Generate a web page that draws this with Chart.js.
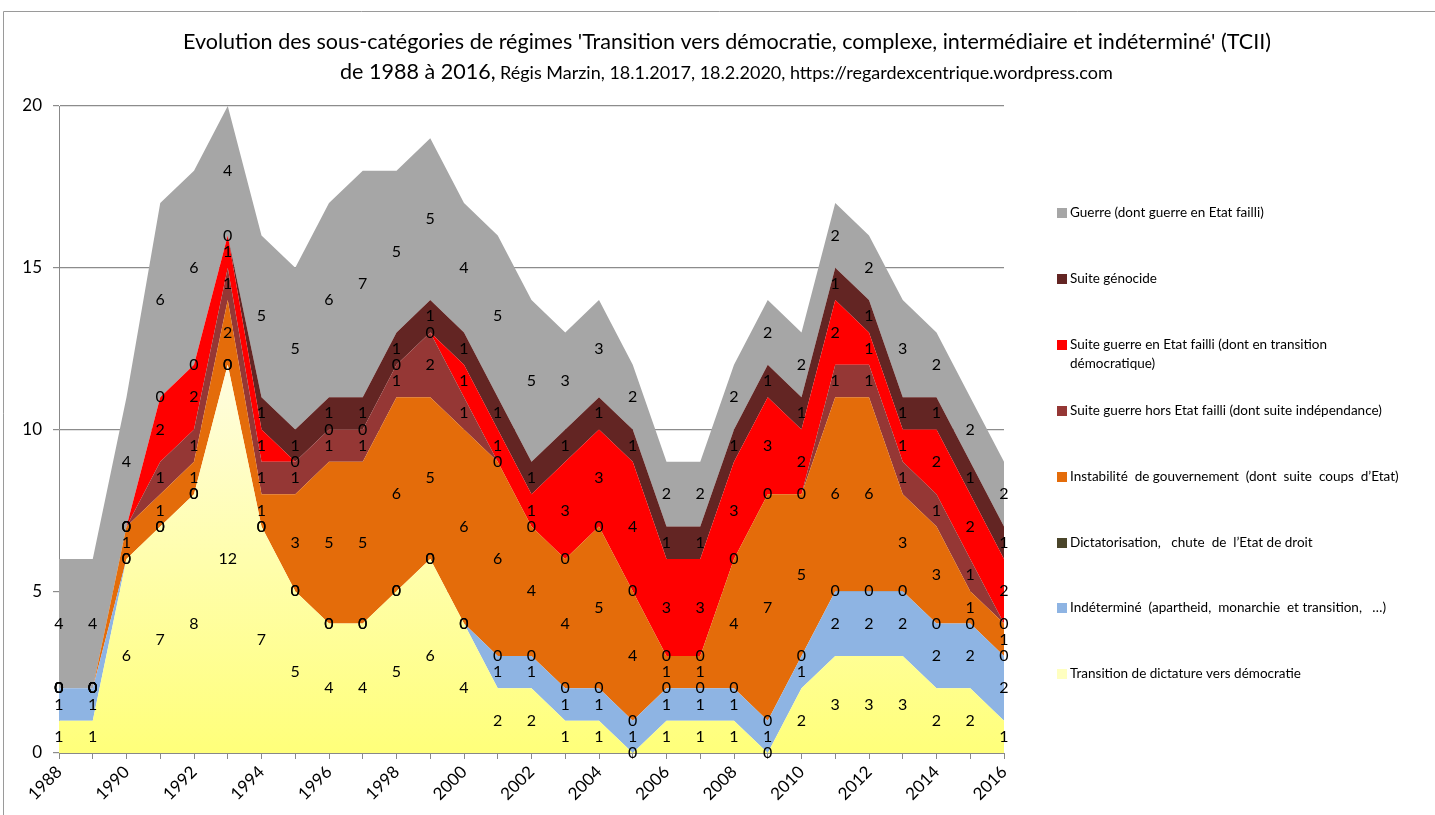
<!DOCTYPE html>
<html>
<head>
<meta charset="utf-8">
<script src="https://cdn.jsdelivr.net/npm/chart.js@4.4.1/dist/chart.umd.min.js"></script>
<style>
html,body{margin:0;padding:0;background:#fff;}
#wrap{width:1435px;height:815px;position:relative;}
</style>
</head>
<body>
<div id="wrap"><canvas id="c" width="1435" height="815"></canvas></div>
<script>
const years = [1988,1989,1990,1991,1992,1993,1994,1995,1996,1997,1998,1999,2000,2001,2002,2003,2004,2005,2006,2007,2008,2009,2010,2011,2012,2013,2014,2015,2016];
const transition   = [1,1,6,7,8,12,7,5,4,4,5,6,4,2,2,1,1,0,1,1,1,0,2,3,3,3,2,2,1];
const indetermine  = [1,1,0,0,0,0,0,0,0,0,0,0,0,1,1,1,1,1,1,1,1,1,1,2,2,2,2,2,2];
const dictatorisation = [0,0,0,0,0,0,0,0,0,0,0,0,0,0,0,0,0,0,0,0,0,0,0,0,0,0,0,0,0];
const instabilite  = [0,0,1,1,1,2,1,3,5,5,6,5,6,6,4,4,5,4,1,1,4,7,5,6,6,3,3,1,1];
const suiteGuerreHors = [0,0,0,1,1,1,1,1,1,1,1,2,1,0,0,0,0,0,0,0,0,0,0,1,1,1,1,1,0];
const suiteGuerreFailli = [0,0,0,2,2,1,1,0,0,0,0,0,1,1,1,3,3,4,3,3,3,3,2,2,1,1,2,2,2];
const suiteGenocide = [0,0,0,0,0,0,1,1,1,1,1,1,1,1,1,1,1,1,1,1,1,1,1,1,1,1,1,1,1];
const guerre       = [4,4,4,6,6,4,5,5,6,7,5,5,4,5,5,3,3,2,2,2,2,2,2,2,2,3,2,2,2];
const yTicks = [0,5,10,15,20];

const seriesNames = [
  'Transition de dictature vers démocratie',
  'Indéterminé  (apartheid,  monarchie  et transition,   …)',
  'Dictatorisation,   chute  de  l\u2019Etat de droit',
  'Instabilité  de gouvernement  (dont  suite  coups  d\u2019Etat)',
  'Suite guerre hors Etat failli (dont suite indépendance)',
  'Suite guerre en Etat failli (dont en transition\ndémocratique)',
  'Suite génocide',
  'Guerre (dont guerre en Etat failli)'
];
const seriesData = [transition, indetermine, dictatorisation, instabilite, suiteGuerreHors, suiteGuerreFailli, suiteGenocide, guerre];
const seriesColors = ['#FFFF80','#8EB4E3','#4A452A','#E46C0A','#953735','#FF0000','#632523','#A6A6A6'];
const legendSwatch = ['#FFFFC0','#8EB4E3','#4A452A','#E46C0A','#953735','#FF0000','#632523','#A6A6A6'];

const FONT = 'Lato, "Open Sans", sans-serif';

function yellowGradient(ctx){
  const chart = ctx.chart;
  const ca = chart.chartArea;
  if(!ca) return '#FFFF80';
  const ys = chart.scales.y;
  const top = ys.getPixelForValue(Math.max(...transition));
  const g = chart.ctx.createLinearGradient(0, top, 0, ca.bottom);
  g.addColorStop(0, '#FFFDE0');
  g.addColorStop(1, '#FFFF7A');
  return g;
}

const datasets = seriesData.map((d,i)=>({
  label: seriesNames[i],
  data: d,
  backgroundColor: i===0 ? yellowGradient : seriesColors[i],
  borderColor: seriesColors[i],
  borderWidth: 0,
  pointRadius: 0,
  pointHoverRadius: 0,
  tension: 0,
  fill: i===0 ? 'origin' : '-1'
}));

const labelsPlugin = {
  id:'valueLabels',
  afterDatasetsDraw(chart){
    const c = chart.ctx, xs = chart.scales.x, ys = chart.scales.y;
    c.save();
    c.font = '16px ' + FONT;
    c.fillStyle = '#000';
    c.textAlign = 'center';
    c.textBaseline = 'middle';
    for(let i=0;i<years.length;i++){
      let cum = 0;
      const x = xs.getPixelForValue(i);
      for(let s=0;s<seriesData.length;s++){
        const v = seriesData[s][i];
        const y = ys.getPixelForValue(cum + v/2);
        c.fillText(String(v), x, y);
        cum += v;
      }
    }
    c.restore();
  }
};

const decorPlugin = {
  id:'decor',
  beforeDraw(chart){
    const c = chart.ctx;
    c.save();
    c.fillStyle='#fff';
    c.fillRect(0,0,chart.width,chart.height);
    c.strokeStyle='#9a9a9a';
    c.lineWidth=1;
    c.beginPath();
    c.moveTo(3.5,815); c.lineTo(3.5,11.5); c.lineTo(1435,11.5);
    c.stroke();
    c.restore();
  },
  afterDraw(chart){
    const c = chart.ctx;
    c.save();
    c.fillStyle='#000';
    c.textBaseline='alphabetic';
    const t1 = "Evolution des sous-catégories de régimes 'Transition vers démocratie, complexe, intermédiaire et indéterminé' (TCII)";
    let fs = 20;
    c.font = fs+'px '+FONT;
    let w = c.measureText(t1).width;
    fs = fs*1089/w;
    c.font = fs+'px '+FONT;
    c.textAlign='center';
    c.fillText(t1, 727, 49);
    const a = 'de 1988 à 2016,';
    const b = 'Régis Marzin, 18.1.2017, 18.2.2020, https://regardexcentrique.wordpress.com';
    let fb = 15;
    c.font = fb+'px '+FONT;
    let wb = c.measureText(b).width;
    fb = fb*613/wb;
    c.textAlign='left';
    c.font = fs+'px '+FONT;
    c.fillText(a, 340, 79);
    c.font = fb+'px '+FONT;
    c.fillText(b, 500, 79);
    const order = [7,6,5,4,3,2,1,0];
    const ypos = [213,279,345,411,477,543,608,674];
    c.font = '13.5px '+FONT;
    c.textBaseline='middle';
    order.forEach((s,k)=>{
      const y = ypos[k];
      c.fillStyle = legendSwatch[s];
      c.fillRect(1057, y-5, 10, 10);
      c.fillStyle = '#000';
      const lines = seriesNames[s].split('\n');
      lines.forEach((ln,j)=> c.fillText(ln, 1070, y + j*19));
    });
    c.restore();
  }
};

new Chart(document.getElementById('c'), {
  type:'line',
  data:{ labels: years.map(String), datasets },
  options:{
    responsive:false,
    animation:false,
    events:[],
    layout:{ padding:{ left:0, top:106, right:431, bottom:0 } },
    plugins:{ legend:{display:false}, title:{display:false}, tooltip:{enabled:false} },
    scales:{
      x:{
        type:'category',
        offset:false,
        afterFit(s){ s.height = 62; },
        grid:{ display:true, drawOnChartArea:false, drawTicks:true, tickLength:6, color:'#888' },
        border:{ display:true, color:'#888' },
        ticks:{
          autoSkip:false, maxRotation:45, minRotation:45, padding:3,
          color:'#000', font:{ size:17, family:FONT },
          callback(v,i){ return (years[i]%2===0) ? String(years[i]) : ''; }
        }
      },
      y:{
        stacked:true,
        min:0, max:20,
        afterFit(s){ s.width = 59; },
        afterBuildTicks(s){ s.ticks = yTicks.map(v=>({value:v})); },
        grid:{ color:'#8c8c8c', lineWidth:1.2, drawTicks:true, tickLength:6 },
        border:{ display:true, color:'#888' },
        ticks:{ color:'#000', font:{ size:17, family:FONT }, padding:11 }
      }
    }
  },
  plugins:[decorPlugin, labelsPlugin]
});
</script>
</body>
</html>
